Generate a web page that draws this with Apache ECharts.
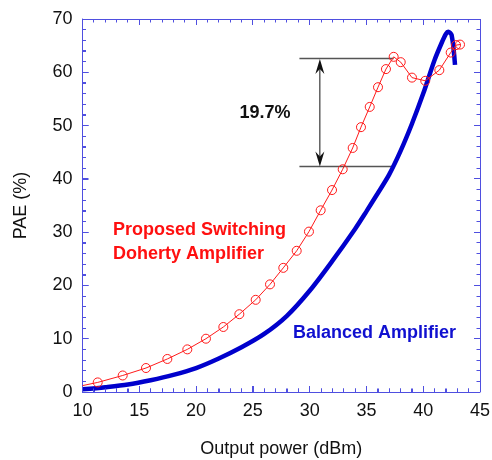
<!DOCTYPE html>
<html>
<head>
<meta charset="utf-8">
<script src="https://cdn.jsdelivr.net/npm/echarts@6/dist/echarts.min.js"></script>
<style>html,body{margin:0;padding:0;background:#fff;}#c{width:492px;height:460px;}</style>
</head>
<body>
<div id="c"></div>
<script>
// Proposed switching Doherty amplifier (red, circles)
const dohertyX = [11.34, 13.54, 15.59, 17.47, 19.23, 20.87, 22.40, 23.81, 25.25, 26.51, 27.68, 28.86, 29.94, 30.97, 31.97, 32.91, 33.79, 34.52, 35.29, 36.02, 36.72, 37.40, 38.02, 39.01, 40.18, 41.42, 42.42, 42.89, 43.24];
const dohertyY = [1.8, 3.1, 4.5, 6.2, 8.0, 10.0, 12.2, 14.6, 17.3, 20.2, 23.3, 26.5, 30.1, 34.1, 37.9, 41.8, 45.8, 49.7, 53.5, 57.2, 60.6, 62.9, 61.9, 59.0, 58.4, 60.4, 63.7, 65.1, 65.2];
const dohertyStart = [10, 1.2];
// Balanced amplifier (blue, thick)
const balancedX = [10, 12, 14, 16, 18, 20, 22, 24, 26, 28, 30, 32, 34, 35, 36, 37, 38, 39, 40, 41, 41.6, 42.0, 42.2, 42.5, 42.8];
const balancedY = [0.5, 0.9, 1.4, 2.2, 3.2, 4.5, 6.3, 8.4, 10.9, 14.3, 19.0, 24.6, 30.6, 33.9, 37.3, 40.8, 45.2, 50.3, 56.0, 62.3, 65.4, 67.2, 67.6, 67.0, 61.4];
// Annotation values
const peakLevels = [62.5, 42.3];
const peakSpan = [29.1, 37.4];
const arrowX = 30.9;
const diffLabel = '19.7%';
const xTicks = [10, 15, 20, 25, 30, 35, 40, 45];
const yTicks = [0, 10, 20, 30, 40, 50, 60, 70];
const xMinorPerMajor = 5;
const yMinorPerMajor = 5;

const FONT = '"Liberation Sans", Arial, sans-serif';
const AXC = '#4f4fe0';

const redData = [{value: dohertyStart, symbol: 'none'}].concat(dohertyX.map((x, i) => [x, dohertyY[i]]));
const blueData = balancedX.map((x, i) => [x, balancedY[i]]);

function axisBase(pos, lo, hi, step, extra) {
  return Object.assign({
    type: 'value', position: pos, min: lo, max: hi, interval: step,
    axisLine: {show: true, onZero: false, lineStyle: {color: AXC}},
    axisTick: {show: true, inside: true, length: 6, lineStyle: {color: AXC}},
    minorTick: {show: true, splitNumber: 5, length: 3.5, lineStyle: {color: AXC}},
    splitLine: {show: false},
    axisLabel: {show: true, margin: 10, fontFamily: FONT, fontSize: 18, color: '#111'}
  }, extra || {});
}

const chart = echarts.init(document.getElementById('c'), null, {renderer: 'canvas'});
chart.setOption({
  animation: false,
  backgroundColor: '#fff',
  grid: {left: 82.5, right: 12, top: 19, bottom: 68, outerBoundsMode: 'none', containLabel: false},
  xAxis: axisBase('bottom', xTicks[0], xTicks[xTicks.length - 1], 5, {
    name: 'Output power (dBm)', nameLocation: 'middle', nameGap: 48,
    nameTextStyle: {fontFamily: FONT, fontSize: 18, color: '#111'}
  }),
  yAxis: axisBase('left', yTicks[0], yTicks[yTicks.length - 1], 10, {
    name: 'PAE (%)', nameLocation: 'middle', nameGap: 52,
    nameTextStyle: {fontFamily: FONT, fontSize: 18, color: '#111'}
  }),
  series: [
    {
      type: 'line', name: 'Balanced', data: blueData, smooth: 0.3,
      symbol: 'none', lineStyle: {color: '#0000cc', width: 4.5}
    },
    {
      type: 'line', name: 'Doherty', data: redData,
      symbol: 'circle', symbolSize: 9,
      lineStyle: {color: '#ff1a1a', width: 1},
      itemStyle: {color: 'rgba(255,255,255,0)', borderColor: '#ff1a1a', borderWidth: 1}
    }
  ]
});

const P = (x, y) => chart.convertToPixel({xAxisIndex: 0, yAxisIndex: 0}, [x, y]);
const g = [];
const seg = (x1, y1, x2, y2, stroke, w, z) => g.push({type: 'line', silent: true, z: z || 10,
  shape: {x1: x1, y1: y1, x2: x2, y2: y2}, style: {stroke: stroke, lineWidth: w}});
const crisp = v => Math.round(v - 0.5) + 0.5;

// Frame: mirrored top/right axis lines and inside ticks on all four sides, from the axis scales
const xLo = xTicks[0], xHi = xTicks[xTicks.length - 1], yLo = yTicks[0], yHi = yTicks[yTicks.length - 1];
const yBottom = P(xLo, yLo)[1], yTop = P(xLo, yHi)[1], xLeft = P(xLo, yLo)[0], xRight = P(xHi, yLo)[0];
seg(xLeft, crisp(yTop), xRight, crisp(yTop), AXC, 1);
seg(crisp(xRight), yTop, crisp(xRight), yBottom, AXC, 1);
for (let i = 0; i < xTicks.length; i++) {
  const px = crisp(P(xTicks[i], yLo)[0]);
  seg(px, yBottom, px, yBottom - 6, AXC, 1);
  seg(px, yTop, px, yTop + 6, AXC, 1);
  if (i < xTicks.length - 1) {
    const step = (xTicks[i + 1] - xTicks[i]) / xMinorPerMajor;
    for (let k = 1; k < xMinorPerMajor; k++) {
      const mx = crisp(P(xTicks[i] + k * step, yLo)[0]);
      seg(mx, yBottom, mx, yBottom - 3.5, AXC, 1);
      seg(mx, yTop, mx, yTop + 3.5, AXC, 1);
    }
  }
}
for (let i = 0; i < yTicks.length; i++) {
  const py = crisp(P(xLo, yTicks[i])[1]);
  seg(xLeft, py, xLeft + 6, py, AXC, 1);
  seg(xRight, py, xRight - 6, py, AXC, 1);
  if (i < yTicks.length - 1) {
    const step = (yTicks[i + 1] - yTicks[i]) / yMinorPerMajor;
    for (let k = 1; k < yMinorPerMajor; k++) {
      const my = crisp(P(xLo, yTicks[i] + k * step)[1]);
      seg(xLeft, my, xLeft + 3.5, my, AXC, 1);
      seg(xRight, my, xRight - 3.5, my, AXC, 1);
    }
  }
}

// Annotations
peakLevels.forEach(lv => {
  const a = P(peakSpan[0], lv), b = P(peakSpan[1], lv);
  seg(a[0], crisp(a[1]), b[0], crisp(b[1]), '#555', 1.5, 1);
});
const aTop = P(arrowX, peakLevels[0]);
const aBot = P(arrowX, peakLevels[1]);
const headL = 15, headW = 4.5, notch = 10;
seg(aTop[0], aTop[1] + notch, aBot[0], aBot[1] - notch, '#111', 1, 2);
g.push({type: 'polygon', silent: true, z: 2, shape: {points: [[aTop[0], aTop[1]], [aTop[0] - headW, aTop[1] + headL], [aTop[0], aTop[1] + notch], [aTop[0] + headW, aTop[1] + headL]]}, style: {fill: '#111'}});
g.push({type: 'polygon', silent: true, z: 2, shape: {points: [[aBot[0], aBot[1]], [aBot[0] - headW, aBot[1] - headL], [aBot[0], aBot[1] - notch], [aBot[0] + headW, aBot[1] - headL]]}, style: {fill: '#111'}});
const t1 = P(26.07, 52.3), t2 = P(12.69, 28.15), t3 = P(28.53, 11.13);
g.push({type: 'text', x: t1[0], y: t1[1], silent: true, z: 3,
  style: {text: diffLabel, fill: '#111', font: 'bold 18px ' + FONT, align: 'center', verticalAlign: 'middle'}});
g.push({type: 'text', x: t2[0], y: t2[1], silent: true, z: 3,
  style: {text: 'Proposed Switching\nDoherty Amplifier', fill: '#ff1010', font: 'bold 18px ' + FONT, lineHeight: 24, align: 'left', verticalAlign: 'middle'}});
g.push({type: 'text', x: t3[0], y: t3[1], silent: true, z: 3,
  style: {text: 'Balanced Amplifier', fill: '#1010d0', font: 'bold 18px ' + FONT, align: 'left', verticalAlign: 'middle'}});
chart.setOption({graphic: g});
</script>
</body>
</html>
